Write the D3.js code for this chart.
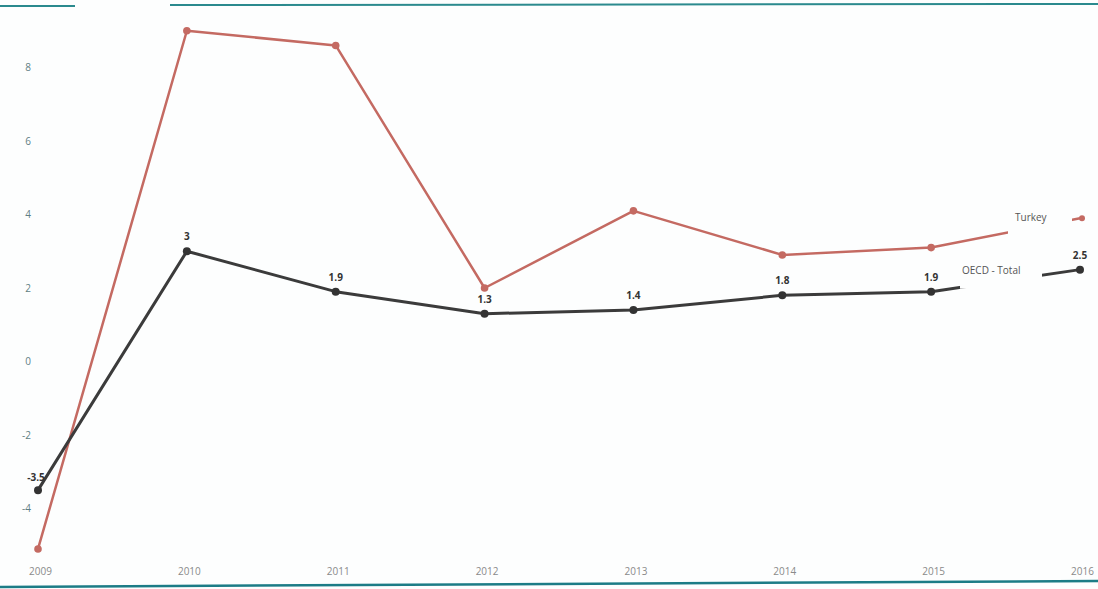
<!DOCTYPE html>
<html>
<head>
<meta charset="utf-8">
<script src="https://cdn.jsdelivr.net/npm/d3@7"></script>
<style>
  html, body { margin: 0; padding: 0; background: #fdfefe; }
  svg { display: block; font-family: "Open Sans", "DejaVu Sans", sans-serif; }
</style>
</head>
<body>
<div id="chart"></div>
<script>
// Data
const years = ["2009", "2010", "2011", "2012", "2013", "2014", "2015", "2016"];
const turkey = [-5.1, 9.0, 8.6, 2.0, 4.1, 2.9, 3.1, 3.9];
const oecd = [-3.5, 3.0, 1.9, 1.3, 1.4, 1.8, 1.9, 2.5];
const oecdLabels = ["-3.5", "3", "1.9", "1.3", "1.4", "1.8", "1.9", "2.5"];
const yTicks = [-4, -2, 0, 2, 4, 6, 8];

const width = 1098, height = 589;

const svg = d3.select("#chart")
    .append("svg")
    .attr("width", width)
    .attr("height", height);

// page frame lines (teal rules at top and bottom)
svg.append("line").attr("x1", 0).attr("x2", 75).attr("y1", 6).attr("y2", 6)
    .attr("stroke", "#2b8a8e").attr("stroke-width", 2);
svg.append("line").attr("x1", 170).attr("x2", width).attr("y1", 5).attr("y2", 4)
    .attr("stroke", "#2b8a8e").attr("stroke-width", 2);
svg.append("line").attr("x1", 0).attr("x2", width).attr("y1", 587).attr("y2", 581)
    .attr("stroke", "#1c7c86").attr("stroke-width", 2.5);

const x = d3.scalePoint()
    .domain(years)
    .range([38, 1080]);

const y = d3.scaleLinear()
    .domain([-5, 9])
    .range([545.25, 30.75]);

// y axis labels (plain hyphen for negatives, as in the picture)
const yAxis = svg.append("g")
    .attr("transform", "translate(34,0)")
    .call(d3.axisLeft(y).tickValues(yTicks).tickFormat(d => String(d)).tickSize(0).tickPadding(3));
yAxis.select(".domain").remove();
yAxis.selectAll("text")
    .attr("font-size", 10)
    .attr("font-family", "Open Sans, DejaVu Sans, sans-serif")
    .attr("fill", "#5f7e84");

// x axis labels
const xAxis = svg.append("g")
    .attr("transform", "translate(2,565)")
    .call(d3.axisBottom(x).tickSize(0).tickPadding(3));
xAxis.select(".domain").remove();
xAxis.selectAll("text")
    .attr("font-size", 10)
    .attr("font-family", "Open Sans, DejaVu Sans, sans-serif")
    .attr("fill", "#8a8a8a");

const line = d3.line()
    .x((d, i) => x(years[i]))
    .y(d => y(d));

// Turkey series
svg.append("path")
    .datum(turkey)
    .attr("fill", "none")
    .attr("stroke", "#c46a62")
    .attr("stroke-width", 2.5)
    .attr("stroke-linejoin", "round")
    .attr("d", line);

svg.append("g")
    .selectAll("circle")
    .data(turkey)
    .enter().append("circle")
    .attr("cx", (d, i) => x(years[i]) + (i === years.length - 1 ? 2 : 0))
    .attr("cy", d => y(d))
    .attr("r", (d, i) => i === years.length - 1 ? 3 : 3.8)
    .attr("fill", "#c46a62");

// OECD series
svg.append("path")
    .datum(oecd)
    .attr("fill", "none")
    .attr("stroke", "#3b3b3b")
    .attr("stroke-width", 3)
    .attr("stroke-linejoin", "round")
    .attr("d", line);

svg.append("g")
    .selectAll("circle")
    .data(oecd)
    .enter().append("circle")
    .attr("cx", (d, i) => x(years[i]))
    .attr("cy", d => y(d))
    .attr("r", 4)
    .attr("fill", "#333");

// series names at the end of the lines, on a white patch that hides the line
const lastX = x(years[years.length - 1]);
const nameTags = [
    {name: "Turkey", v: turkey[turkey.length - 1], x0: lastX - 72, x1: lastX - 8, dx: -65, dy: -1},
    {name: "OECD - Total", v: oecd[oecd.length - 1], x0: lastX - 120, x1: lastX - 38, dx: -118, dy: 1}
];

nameTags.forEach(t => {
    svg.append("rect")
        .attr("x", t.x0)
        .attr("y", y(t.v) - 11)
        .attr("width", t.x1 - t.x0)
        .attr("height", 30)
        .attr("fill", "#fdfefe");
    svg.append("text")
        .attr("x", lastX + t.dx)
        .attr("y", y(t.v) + t.dy)
        .attr("dy", "0.35em")
        .attr("font-size", 10)
        .attr("fill", "#555")
        .text(t.name);
});

// OECD data labels
svg.append("g")
    .selectAll("text")
    .data(oecd)
    .enter().append("text")
    .attr("x", (d, i) => x(years[i]) + (i === 0 ? -2 : 0))
    .attr("y", (d, i) => y(d) - (i === 0 ? 9 : 11))
    .attr("text-anchor", (d, i) => i === 0 ? "middle" : "middle")
    .attr("font-size", 10)
    .attr("font-weight", "bold")
    .attr("fill", "#333")
    .text((d, i) => oecdLabels[i]);
</script>
</body>
</html>
